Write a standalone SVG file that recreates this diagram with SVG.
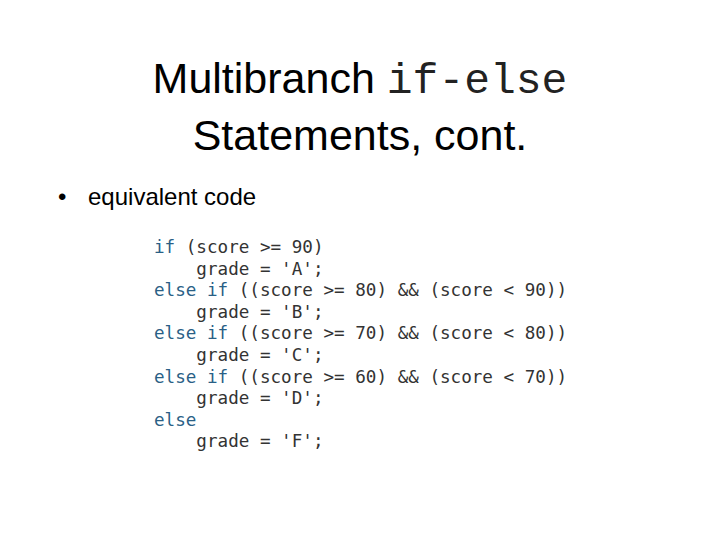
<svg xmlns="http://www.w3.org/2000/svg" width="720" height="540" viewBox="0 0 720 540">
<style>
.t{font-family:"Liberation Sans",Arial,sans-serif;fill:#000}
.m{font-family:"Liberation Mono","Courier New",monospace;font-size:43px;fill:#222}
.c{font-family:"DejaVu Sans Mono",monospace;font-size:17.6px;fill:#333;white-space:pre}
.k{fill:#2a5f86}
</style>
<rect width="720" height="540" fill="#fff"/>
<g id="title">
<text class="t" x="360" y="93" font-size="43" text-anchor="middle">Multibranch <tspan class="m">if-else</tspan></text>
<text class="t" x="360" y="150" font-size="43" text-anchor="middle">Statements, cont.</text>
</g>
<g id="bullet">
<text class="t" x="58" y="205" font-size="24">•</text>
<text class="t" x="88" y="205" font-size="24">equivalent code</text>
</g>
<g id="code">
<text class="c" x="154" y="253"><tspan class="k">if</tspan> (score &gt;= 90)</text>
<text class="c" x="154" y="274.6">    grade = 'A';</text>
<text class="c" x="154" y="296.2"><tspan class="k">else if</tspan> ((score &gt;= 80) &amp;&amp; (score &lt; 90))</text>
<text class="c" x="154" y="317.8">    grade = 'B';</text>
<text class="c" x="154" y="339.4"><tspan class="k">else if</tspan> ((score &gt;= 70) &amp;&amp; (score &lt; 80))</text>
<text class="c" x="154" y="361">    grade = 'C';</text>
<text class="c" x="154" y="382.6"><tspan class="k">else if</tspan> ((score &gt;= 60) &amp;&amp; (score &lt; 70))</text>
<text class="c" x="154" y="404.2">    grade = 'D';</text>
<text class="c" x="154" y="425.8"><tspan class="k">else</tspan></text>
<text class="c" x="154" y="447.4">    grade = 'F';</text>
</g>
</svg>
